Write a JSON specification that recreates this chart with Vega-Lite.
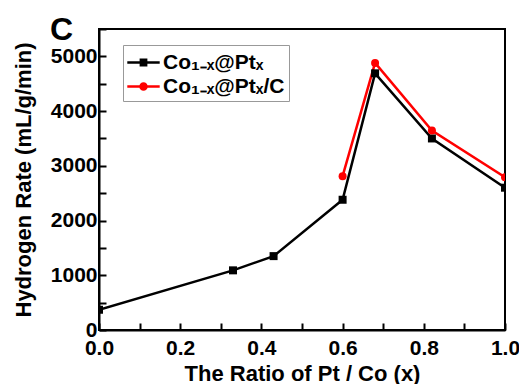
{
  "$schema": "https://vega.github.io/schema/vega-lite/v6.json",
  "width": 406,
  "height": 301,
  "autosize": {"type": "none"},
  "padding": {"left": 99, "top": 29, "right": 14, "bottom": 54},
  "background": "white",
  "config": {
    "view": {"stroke": "black", "strokeWidth": 2},
    "font": "Liberation Sans"
  },
  "title": {
    "text": "C",
    "anchor": "start",
    "frame": "group",
    "fontSize": 32,
    "fontWeight": "bold",
    "font": "Liberation Sans",
    "color": "black",
    "baseline": "alphabetic",
    "dx": -49,
    "dy": 54,
    "offset": 0
  },
  "data": {
    "values": [
      {"x": 0.0, "rate": 370, "series": "Co₁₋ₓ@Ptₓ"},
      {"x": 0.33, "rate": 1090, "series": "Co₁₋ₓ@Ptₓ"},
      {"x": 0.43, "rate": 1350, "series": "Co₁₋ₓ@Ptₓ"},
      {"x": 0.6, "rate": 2380, "series": "Co₁₋ₓ@Ptₓ"},
      {"x": 0.68, "rate": 4690, "series": "Co₁₋ₓ@Ptₓ"},
      {"x": 0.82, "rate": 3500, "series": "Co₁₋ₓ@Ptₓ"},
      {"x": 1.0, "rate": 2600, "series": "Co₁₋ₓ@Ptₓ"},
      {"x": 0.6, "rate": 2810, "series": "Co₁₋ₓ@Ptₓ/C"},
      {"x": 0.68, "rate": 4880, "series": "Co₁₋ₓ@Ptₓ/C"},
      {"x": 0.82, "rate": 3645, "series": "Co₁₋ₓ@Ptₓ/C"},
      {"x": 1.0, "rate": 2790, "series": "Co₁₋ₓ@Ptₓ/C"}
    ]
  },
  "encoding": {
    "x": {
      "field": "x",
      "type": "quantitative",
      "scale": {"domain": [0, 1], "nice": false, "zero": false},
      "axis": {
        "title": "The Ratio of Pt / Co (x)",
        "values": [0, 0.1, 0.2, 0.3, 0.4, 0.5, 0.6, 0.7, 0.8, 0.9, 1.0],
        "labelExpr": "round(datum.value*10) % 2 == 0 ? format(datum.value, '.1f') : ''",
        "grid": false,
        "domainColor": "black",
        "domainWidth": 2,
        "tickColor": "black",
        "tickWidth": 2,
        "tickSize": -7,
        "labelFontSize": 21,
        "labelFontWeight": "bold",
        "labelColor": "black",
        "labelPadding": 14,
        "labelFlush": false,
        "labelOverlap": false,
        "titleFontSize": 22,
        "titleFontWeight": "bold",
        "titleColor": "black",
        "titlePadding": 5,
        "encode": {
          "ticks": {"update": {"y2": {"signal": "round(datum.value*10) % 2 == 0 ? -7 : -4"}}}
        }
      }
    },
    "y": {
      "field": "rate",
      "type": "quantitative",
      "scale": {"domain": [0, 5500], "nice": false},
      "axis": {
        "title": "Hydrogen Rate (mL/g/min)",
        "values": [0, 500, 1000, 1500, 2000, 2500, 3000, 3500, 4000, 4500, 5000, 5500],
        "labelExpr": "datum.value % 1000 == 0 && datum.value <= 5000 ? format(datum.value, 'd') : ''",
        "grid": false,
        "domainColor": "black",
        "domainWidth": 2,
        "tickColor": "black",
        "tickWidth": 2,
        "tickSize": -7,
        "labelFontSize": 21,
        "labelFontWeight": "bold",
        "labelColor": "black",
        "labelPadding": 9,
        "labelFlush": false,
        "labelOverlap": false,
        "titleFontSize": 22,
        "titleFontWeight": "bold",
        "titleColor": "black",
        "titlePadding": 15,
        "encode": {
          "ticks": {"update": {"x2": {"signal": "datum.value % 1000 == 0 ? 7 : 4"}}}
        }
      }
    }
  },
  "layer": [
    {
      "mark": {"type": "line", "strokeWidth": 2.5, "clip": true},
      "encoding": {
        "color": {
          "field": "series",
          "type": "nominal",
          "scale": {"domain": ["Co₁₋ₓ@Ptₓ", "Co₁₋ₓ@Ptₓ/C"], "range": ["black", "#ff0000"]},
          "legend": null
        }
      }
    },
    {
      "mark": {"type": "point", "filled": true, "opacity": 1, "size": 64, "clip": true},
      "encoding": {
        "color": {
          "field": "series",
          "type": "nominal",
          "scale": {"domain": ["Co₁₋ₓ@Ptₓ", "Co₁₋ₓ@Ptₓ/C"], "range": ["black", "#ff0000"]},
          "legend": null
        },
        "shape": {
          "field": "series",
          "type": "nominal",
          "scale": {"domain": ["Co₁₋ₓ@Ptₓ", "Co₁₋ₓ@Ptₓ/C"], "range": ["square", "circle"]},
          "legend": null
        }
      }
    },
    {
      "transform": [{"filter": "datum.x > 5"}],
      "mark": {"type": "point", "filled": true, "opacity": 1, "strokeWidth": 2.5},
      "encoding": {
        "fill": {
          "field": "series",
          "type": "nominal",
          "scale": {"domain": ["Co₁₋ₓ@Ptₓ", "Co₁₋ₓ@Ptₓ/C"], "range": ["black", "#ff0000"]},
          "legend": {
            "orient": "none", "legendX": 24, "legendY": 16, "title": null,
            "strokeColor": "#999999", "fillColor": "white", "padding": 4,
            "labelFontSize": 21, "labelFontWeight": "bold", "labelFont": "Liberation Sans",
            "labelColor": "black", "labelLimit": 400, "labelOffset": 9, "rowPadding": 0,
            "symbolSize": 576, "symbolStrokeWidth": 2.5
          }
        },
        "stroke": {
          "field": "series",
          "type": "nominal",
          "scale": {"domain": ["Co₁₋ₓ@Ptₓ", "Co₁₋ₓ@Ptₓ/C"], "range": ["black", "#ff0000"]},
          "legend": {
            "orient": "none", "legendX": 24, "legendY": 16, "title": null,
            "strokeColor": "#999999", "fillColor": "white", "padding": 4,
            "labelFontSize": 21, "labelFontWeight": "bold", "labelFont": "Liberation Sans",
            "labelColor": "black", "labelLimit": 400, "labelOffset": 9, "rowPadding": 0,
            "symbolSize": 576, "symbolStrokeWidth": 2.5
          }
        },
        "shape": {
          "field": "series",
          "type": "nominal",
          "scale": {
            "domain": ["Co₁₋ₓ@Ptₓ", "Co₁₋ₓ@Ptₓ/C"],
            "range": [
              "M-1.1,0H1.6M0.03,-0.22H0.47V0.22H0.03Z",
              "M-1.1,0H1.6M0.5,0A0.25,0.25 0 1 1 0,0A0.25,0.25 0 1 1 0.5,0Z"
            ]
          },
          "legend": {
            "orient": "none", "legendX": 24, "legendY": 16, "title": null,
            "strokeColor": "#999999", "fillColor": "white", "padding": 4,
            "labelFontSize": 21, "labelFontWeight": "bold", "labelFont": "Liberation Sans",
            "labelColor": "black", "labelLimit": 400, "labelOffset": 9, "rowPadding": 0,
            "symbolSize": 576, "symbolStrokeWidth": 2.5
          }
        }
      }
    }
  ],
  "resolve": {"scale": {"shape": "independent", "fill": "independent", "stroke": "independent"}}
}
